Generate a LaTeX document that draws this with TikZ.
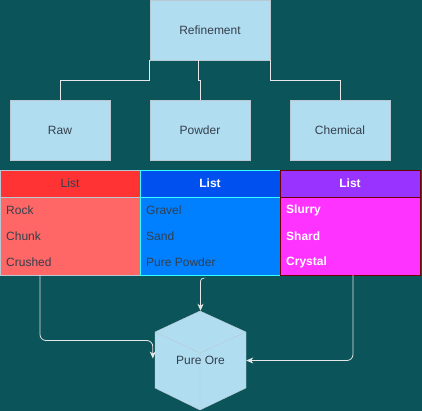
\documentclass[tikz,border=0pt]{standalone}
\usepackage{fontspec}
\setmainfont{Liberation Sans}
\usetikzlibrary{arrows.meta}
\definecolor{bgc}{HTML}{0B5459}
\definecolor{boxf}{HTML}{B1DDF0}
\definecolor{boxs}{HTML}{BAC8D3}
\definecolor{txt}{HTML}{33404D}
\definecolor{redh}{HTML}{FF3333}
\definecolor{redb}{HTML}{FF6666}
\definecolor{blueh}{HTML}{0050EF}
\definecolor{blueb}{HTML}{007FFF}
\definecolor{cyans}{HTML}{33FFFF}
\definecolor{purh}{HTML}{9933FF}
\definecolor{pinkb}{HTML}{FF33FF}
\definecolor{darkr}{HTML}{6F0000}
\definecolor{wire}{HTML}{E6E6E6}
\begin{document}
\begin{tikzpicture}[x=1pt, y=-1pt,
    every node/.style={font=\fontsize{12}{14}\selectfont, inner sep=0pt},
    box/.style={draw=boxs, fill=boxf, text=txt, minimum width=100pt, minimum height=60pt},
    hdr/.style={minimum width=140pt, minimum height=27pt},
    body/.style={minimum width=140pt, minimum height=78pt},
    item/.style={anchor=west},
    wires/.style={draw=wire, line width=0.8pt},
    arr/.style={wires, -{Stealth[length=7pt, width=6pt, inset=2pt]}}]
    \fill[bgc] (0,0) rectangle (422,411);
    \useasboundingbox (0,0) rectangle (422,411);
    % tree
    \node[box, minimum width=120pt] (ref) at (210,30) {Refinement};
    \node[box] (raw) at (60,130) {Raw};
    \node[box] (pow) at (200,130) {Powder};
    \node[box] (chem) at (340,130) {Chemical};
    \draw[wires] (ref.south west) -- ++(0,20) -| (raw.north);
    \draw[wires] ([xshift=-12pt]ref.south) -- ++(0,20) -| (pow.north);
    \draw[wires] (ref.south east) -- ++(0,20) -| (chem.north);
    % lists
    \node[hdr, draw=boxs, fill=redh, text=txt] (lh1) at (70,183.5) {List};
    \node[body, draw=boxs, fill=redb] (lb1) at (70,236) {};
    \node[item, text=txt] (rock) at (6,210) {Rock};
    \node[item, text=txt] (chunk) at (6,236) {Chunk};
    \node[item, text=txt] (crush) at (6,262) {Crushed};
    \node[hdr, draw=cyans, fill=blueh, text=white, font=\fontsize{12}{14}\selectfont\bfseries] (lh2) at (210,183.5) {List};
    \node[body, draw=cyans, fill=blueb] (lb2) at (210,236) {};
    \node[item, text=txt] (gravel) at (146,210) {Gravel};
    \node[item, text=txt] (sand) at (146,236) {Sand};
    \node[item, text=txt] (ppow) at (146,262) {Pure Powder};
    \node[hdr, draw=darkr, fill=purh, text=white, font=\fontsize{12}{14}\selectfont\bfseries] (lh3) at (350,183.5) {List};
    \node[body, draw=darkr, fill=pinkb] (lb3) at (350,236) {};
    \node[item, text=white, font=\fontsize{12}{14}\selectfont\bfseries] (slurry) at (286,210) {Slurry};
    \node[item, text=white, font=\fontsize{12}{14}\selectfont\bfseries] (shard) at (286,236) {Shard};
    \node[item, text=white, font=\fontsize{12}{14}\selectfont\bfseries] (cryst) at (286,262) {Crystal};
    % cube
    \filldraw[fill=boxf, draw=boxs] (200,311) -- (246,332) -- (246,388) -- (200,410) -- (155,388) -- (155,332) -- cycle;
    \draw[boxs] (155,332) -- (200,353) -- (246,332) (200,353) -- (200,410);
    \node[text=txt, minimum width=91pt, minimum height=99pt] (ore) at (200.5,360.5) {Pure Ore};
    \draw[arr, rounded corners=6pt] ([xshift=-30pt]lb1.south) |- ([xshift=-2pt, yshift=20pt]ore.west) -- ([xshift=-2pt, yshift=2pt]ore.west);
    \draw[arr, rounded corners=3pt] ([xshift=-7pt, yshift=-3pt]lb2.south) -| (ore.north);
    \draw[arr, rounded corners=6pt] ([xshift=3pt]lb3.south) |- (ore.east);
\end{tikzpicture}
\end{document}
